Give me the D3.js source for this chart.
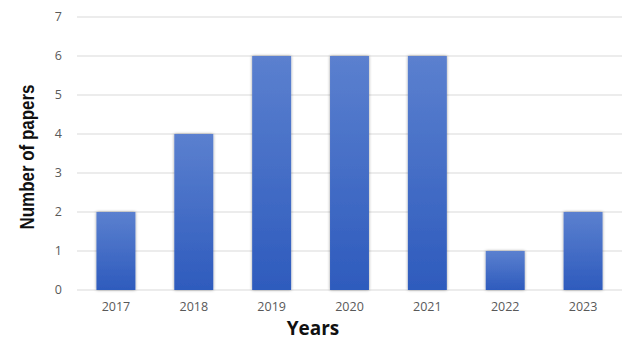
<!DOCTYPE html>
<html><head><meta charset="utf-8">
<script src="https://cdn.jsdelivr.net/npm/d3@7"></script>
<style>body{margin:0;background:#fff}svg{display:block}</style>
</head><body>
<script>
const years = ["2017","2018","2019","2020","2021","2022","2023"];
const papers = [2, 4, 6, 6, 6, 1, 2];
const yTicks = [0,1,2,3,4,5,6,7];

const W = 624, H = 340;
const m = {left: 77, right: 2, top: 17, bottom: 50};
const svg = d3.select("body").append("svg").attr("width", W).attr("height", H);
const defs = svg.append("defs");
const grad = defs.append("linearGradient").attr("id","bg").attr("x1",0).attr("y1",0).attr("x2",0).attr("y2",1);
grad.append("stop").attr("offset","0%").attr("stop-color","#5b80cf");
grad.append("stop").attr("offset","100%").attr("stop-color","#2e5bbd");
const f = defs.append("filter").attr("id","sh").attr("x","-20%").attr("y","-10%").attr("width","140%").attr("height","120%");
f.append("feDropShadow").attr("dx",0).attr("dy",0).attr("stdDeviation",1.5).attr("flood-color","#000").attr("flood-opacity",0.4);

const x = d3.scaleBand().domain(years).range([m.left, W - m.right]).padding(0.5).paddingOuter(0.25);
const y = d3.scaleLinear().domain([0,7]).range([H - m.bottom, m.top]);

const g = svg.append("g");
g.selectAll("line.grid").data(yTicks).join("line")
  .attr("x1", m.left).attr("x2", W - m.right)
  .attr("y1", d => y(d)).attr("y2", d => y(d))
  .attr("stroke", "#d9d9d9").attr("stroke-width", 1);

g.selectAll("text.yt").data(yTicks).join("text")
  .attr("x", 62).attr("y", d => y(d)).attr("dy", "0.35em")
  .attr("text-anchor", "end").attr("fill", "#595959")
  .style("font", "12.5px 'Open Sans', sans-serif").text(d => d);

g.selectAll("rect.bar").data(papers).join("rect")
  .attr("x", (d,i) => x(years[i])).attr("width", x.bandwidth())
  .attr("y", d => y(d)).attr("height", d => y(0) - y(d))
  .attr("fill", "url(#bg)").attr("filter", "url(#sh)");

g.selectAll("text.xt").data(years).join("text")
  .attr("x", d => x(d) + x.bandwidth()/2).attr("y", 307).attr("dy","0.35em")
  .attr("text-anchor", "middle").attr("fill", "#595959")
  .style("font", "12.5px 'Open Sans', sans-serif").text(d => d);

svg.append("text").attr("x", 313).attr("y", 335)
  .attr("text-anchor","middle").attr("fill","#111")
  .style("font","bold 19px 'Open Sans', sans-serif").text("Years");

svg.append("text").attr("transform","translate(34,157) rotate(-90)")
  .attr("text-anchor","middle").attr("fill","#111")
  .attr("textLength", 145).attr("lengthAdjust","spacingAndGlyphs")
  .style("font","bold 21px 'Liberation Sans Narrow', 'Liberation Sans', sans-serif").text("Number of papers");
</script>
</body></html>
